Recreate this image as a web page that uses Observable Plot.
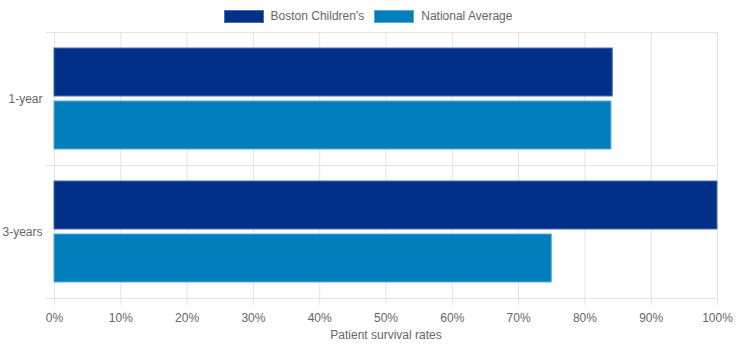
<!DOCTYPE html>
<html>
<head>
<meta charset="utf-8">
<script src="https://cdn.jsdelivr.net/npm/d3@7"></script>
<script src="https://cdn.jsdelivr.net/npm/@observablehq/plot@0.6"></script>
<style>
  body { margin: 0; background: #fff; font-family: "Liberation Sans", Arial, sans-serif; }
  #wrap { position: relative; width: 736px; height: 350px; }
  #legend { position: absolute; top: 9px; left: 0; width: 736px; display: flex; justify-content: center; align-items: center; font-size: 12px; color: #666; line-height: 14px; }
  .sw { width: 38px; height: 11px; margin-right: 7px; border-width: 1px; border-style: solid; }
  .lab { margin-right: 10px; }
  .lab:last-child { margin-right: 0; }
</style>
</head>
<body>
<div id="wrap">
  <div id="legend"></div>
  <div id="chart"></div>
</div>
<script>
const categories = ["1-year", "3-years"];
const series = ["Boston Children's", "National Average"];
const bostonValues = [84.2, 100];
const nationalValues = [84.0, 75];
const xTicks = [0, 10, 20, 30, 40, 50, 60, 70, 80, 90, 100];
const fills = ["#003087", "#007fbc"];
const borders = ["#4a6cb0", "#58aadc"];
const axisTitle = "Patient survival rates";

const boston = categories.map((c, i) => ({category: c, value: bostonValues[i]}));
const national = categories.map((c, i) => ({category: c, value: nationalValues[i]}));

const legend = document.getElementById("legend");
series.forEach((s, i) => {
  const sw = document.createElement("span");
  sw.className = "sw";
  sw.style.background = fills[i];
  sw.style.borderColor = borders[i];
  const lab = document.createElement("span");
  lab.className = "lab";
  lab.textContent = s;
  legend.appendChild(sw);
  legend.appendChild(lab);
});

const grid = "#e3e3e3";
const half = (298 - 32) / categories.length / 2;

const chart = Plot.plot({
  width: 736,
  height: 350,
  marginTop: 32,
  marginBottom: 52,
  marginLeft: 54,
  marginRight: 19,
  style: {fontFamily: "'Liberation Sans', Arial, sans-serif", fontSize: "12px", color: "#666", background: "#fff"},
  x: {domain: [0, 100]},
  y: {domain: categories, padding: 0},
  marks: [
    Plot.ruleX(xTicks, {x: d => d, stroke: grid, insetBottom: -7}),
    Plot.ruleY(categories, {y: d => d, dy: -half, stroke: grid, insetLeft: -8}),
    Plot.ruleY([categories[categories.length - 1]], {y: d => d, dy: half, stroke: grid, insetLeft: -8}),
    Plot.barX(boston, {x: "value", y: "category", fill: fills[0], stroke: borders[0], strokeWidth: 1, insetTop: 16, insetBottom: 69}),
    Plot.barX(national, {x: "value", y: "category", fill: fills[1], stroke: borders[1], strokeWidth: 1, insetTop: 69, insetBottom: 16}),
    Plot.axisX(xTicks, {tickSize: 0, tickPadding: 15, tickFormat: d => d + "%", fill: "#666", label: null}),
    Plot.axisY({tickSize: 0, tickPadding: 12, fill: "#666", label: null}),
    Plot.text([axisTitle], {text: d => d, frameAnchor: "bottom", dy: 40, fill: "#666", fontSize: 12})
  ]
});
document.getElementById("chart").appendChild(chart);
</script>
</body>
</html>
